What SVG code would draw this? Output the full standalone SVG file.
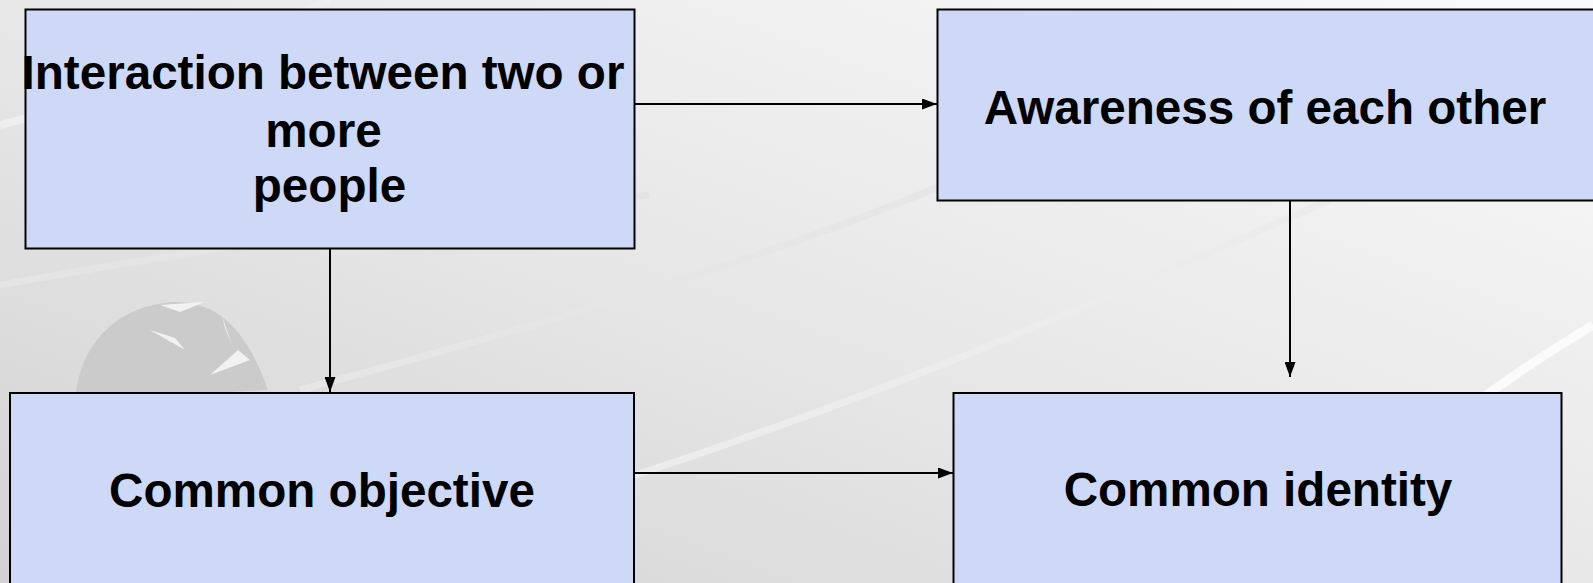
<svg xmlns="http://www.w3.org/2000/svg" width="1593" height="583" viewBox="0 0 1593 583">
<style>
.box{fill:#cdd9f6;stroke:#000;stroke-width:2}
.lbl{font-family:"Liberation Sans",Arial,sans-serif;font-weight:bold;font-size:47.6px;fill:#000;text-anchor:middle}
.conn{stroke:#000;stroke-width:2;fill:none;marker-end:url(#ah)}
</style>
<defs>
<linearGradient id="bg" x1="0" y1="1" x2="1" y2="0">
<stop offset="0" stop-color="#d2d2d2"/>
<stop offset="0.45" stop-color="#e6e6e6"/>
<stop offset="1" stop-color="#fafafa"/>
</linearGradient>
<marker id="ah" viewBox="0 0 15 11" refX="15" refY="5.5" markerWidth="15" markerHeight="11" markerUnits="userSpaceOnUse" orient="auto">
<path d="M0,0 L15,5.5 L0,11 Z" fill="#000"/>
</marker>
</defs>
<rect width="1593" height="583" fill="url(#bg)"/>
<g id="background-decor" fill="none">
<path d="M0,125 C120,95 220,50 330,0" stroke="#eeeeee" stroke-width="8"/>
<path d="M0,285 C250,240 450,215 650,195" stroke="#e4e4e4" stroke-width="7"/>
<path d="M300,390 C600,310 850,230 1000,160" stroke="#e6e6e6" stroke-width="7"/>
<path d="M620,480 C900,390 1100,300 1330,200" stroke="#ececec" stroke-width="7"/>
<path d="M1480,400 C1520,370 1560,345 1593,325" stroke="#fbfbfb" stroke-width="9"/>
<path d="M75,400 C80,340 120,305 175,302 C215,302 245,325 268,390 Z" fill="#cbcbcb"/>
<path d="M160,305 L205,302 L180,312 Z M150,330 L175,338 L185,350 Z M222,316 L232,345 L225,328 Z M210,375 L238,350 L250,360 Z" fill="#f2f2f2"/>
</g>
<g id="connectors">
<line class="conn" x1="635" y1="104" x2="937" y2="104"/>
<line class="conn" x1="330" y1="249" x2="330" y2="392"/>
<line class="conn" x1="1290" y1="201" x2="1290" y2="377"/>
<line class="conn" x1="635" y1="473" x2="953" y2="473"/>
</g>
<g id="node-interaction">
<rect class="box" x="25.5" y="9.5" width="609" height="239"/>
<text class="lbl" x="323" y="89">Interaction between two or</text>
<text class="lbl" x="323.5" y="146.5">more</text>
<text class="lbl" x="329.5" y="202">people</text>
</g>
<g id="node-awareness">
<rect class="box" x="937.5" y="9.5" width="660" height="191"/>
<text class="lbl" x="1265" y="124">Awareness of each other</text>
</g>
<g id="node-objective">
<rect class="box" x="10" y="393" width="624" height="200"/>
<text class="lbl" x="322" y="507">Common objective</text>
</g>
<g id="node-identity">
<rect class="box" x="953.5" y="393" width="608" height="200"/>
<text class="lbl" x="1258" y="506">Common identity</text>
</g>
</svg>
